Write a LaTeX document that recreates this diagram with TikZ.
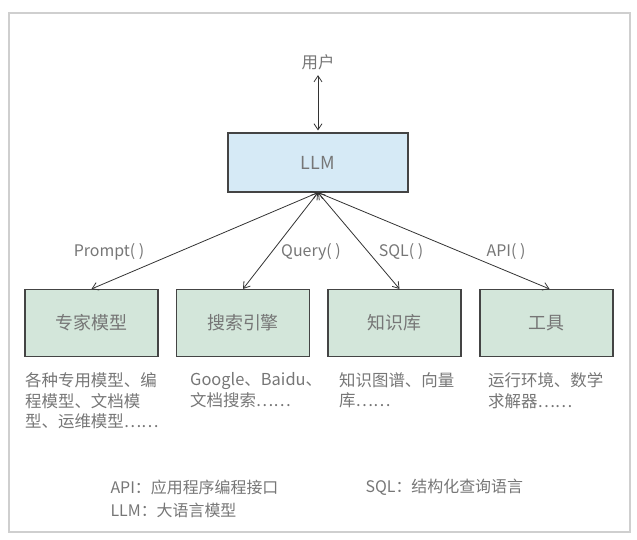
\documentclass[tikz,border=0pt]{standalone}
\usepackage{fontspec}
\setmainfont{Noto Sans CJK SC}
\usetikzlibrary{arrows.meta}
\definecolor{txtgray}{HTML}{767676}
\definecolor{llmblue}{HTML}{D6EAF6}
\definecolor{toolgreen}{HTML}{D3E6DA}
\definecolor{framegray}{HTML}{CFCFCF}
\definecolor{edgegray}{HTML}{444444}

\begin{document}
\begin{tikzpicture}[x=1bp,y=1bp,
  llmbox/.style={draw=edgegray,fill=llmblue,line width=1.1bp,minimum width=180bp,minimum height=59bp,text=txtgray,font=\fontsize{18}{20}\selectfont},
  toolbox/.style={draw=edgegray,fill=toolgreen,line width=1.1bp,minimum width=133bp,minimum height=67bp,text=txtgray,font=\fontsize{18}{20}\selectfont},
  link/.style={{Straight Barb[length=6bp,width=8bp]}-{Straight Barb[length=6bp,width=8bp]},line width=0.8bp,draw=black!80},
  desc/.style={anchor=north west,inner sep=0pt,align=left,text=txtgray,font=\fontsize{16.5}{21}\selectfont},
  lbl/.style={text=txtgray,font=\fontsize{16}{18}\selectfont}]
\path[use as bounding box] (0,0) rectangle (637,540);
\draw[framegray,line width=1.5bp] (9,8) rectangle (630,527);
% top part
\node[lbl,font=\fontsize{16.5}{18}\selectfont] (user) at (318,478) {用户};
\node[llmbox] (llm) at (318,377.5) {LLM};
\draw[link,shorten <=2bp,shorten >=2bp] (user.south) -- (llm.north);
% four tools
\node[toolbox] (expert) at (91.5,217) {专家模型};
\node[toolbox] (search) at (243,217) {搜索引擎};
\node[toolbox] (kb) at (394.5,217) {知识库};
\node[toolbox] (tools) at (546.5,217) {工具};
\draw[link] (llm.south) -- (expert.north);
\draw[link] (llm.south) -- (search.north);
\draw[link] (llm.south) -- ([xshift=5bp]kb.north);
\draw[link] (llm.south) -- ([xshift=3bp]tools.north);
\node[lbl] (lprompt) at (109,288) {Prompt( )};
\node[lbl] (lquery) at (311,288) {Query( )};
\node[lbl] (lsql) at (401,288) {SQL( )};
\node[lbl] (lapi) at (506,288) {API( )};
% descriptions
\node[desc] (dexpert) at (25,168) {各种专用模型、编\\程模型、文档模\\型、运维模型……};
\node[desc] (dsearch) at (190,168) {Google、Baidu、\\文档搜索……};
\node[desc] (dkb) at (339,168) {知识图谱、向量\\库……};
\node[desc] (dtools) at (488,168) {运行环境、数学\\求解器……};
% legend
\node[lbl,anchor=west] (keyapi) at (107,53) {API：应用程序编程接口};
\node[lbl,anchor=west] (keyllm) at (107,30) {LLM：大语言模型};
\node[lbl,anchor=west] (keysql) at (362,53) {SQL：结构化查询语言};
\end{tikzpicture}
\end{document}
